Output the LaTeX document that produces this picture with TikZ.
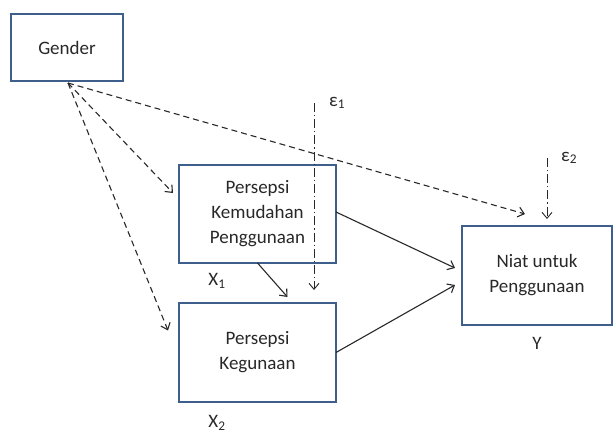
\documentclass[tikz,border=0pt]{standalone}
\usepackage{fontspec}
\setmainfont{Carlito}
\usetikzlibrary{arrows.meta,positioning,calc}

\definecolor{boxblue}{RGB}{62,95,140}
\definecolor{inkgray}{RGB}{40,40,40}

\begin{document}
\begin{tikzpicture}[
    x=1pt, y=-1pt,
    font=\fontsize{19}{25}\selectfont,
    >={Straight Barb[length=6pt,width=10pt]},
    % styles
    box/.style={draw=boxblue, line width=2pt, rectangle, outer sep=0pt, align=center, text=inkgray},
    lbl/.style={inner sep=0pt, text=inkgray},
    solid arrow/.style={draw=inkgray, ->, line width=1.1pt},
    gender arrow/.style={draw=inkgray, ->, line width=1.1pt, dash pattern=on 6pt off 4pt},
    error arrow/.style={draw=inkgray, ->, line width=0.9pt, dash pattern=on 9pt off 3pt on 1.2pt off 3pt}
]
    \useasboundingbox (0,0) rectangle (614,434);

    % --- 1. Nodes ---
    \node[box, minimum width=112pt, minimum height=67pt] (gender) at (67,47.5) {Gender};

    \node[box, minimum width=157pt, minimum height=98pt] (x1) at (257.5,214) {Persepsi\\Kemudahan\\Penggunaan};
    \node[box, minimum width=157pt, minimum height=99pt, below=40pt of x1] (x2) {Persepsi\\Kegunaan};

    \node[box, minimum width=150pt, minimum height=99pt] (niat) at (537,275.5) {Niat untuk\\Penggunaan};

    % variable labels
    \node[lbl] (x1lab) at ($(x1.south west)+(38,18)$) {X\textsubscript{1}};
    \node[lbl] (x2lab) at ($(x2.south west)+(38,21)$) {X\textsubscript{2}};
    \node[lbl, below=12pt of niat] (ylab) {Y};

    % error terms
    \coordinate (e1top) at ($(x1.north east)+(-22,-62)$);
    \coordinate (e1end) at ($(x2.north east)+(-22,-13)$);
    \node[lbl, anchor=west] (e1lab) at ($(e1top)+(15,0)$) {ε\textsubscript{1}};

    \coordinate (e2top) at ($(niat.north)+(10,-68)$);
    \coordinate (e2end) at ($(niat.north)+(10,-7)$);
    \node[lbl, anchor=west] (e2lab) at ($(e2top)+(14,0)$) {ε\textsubscript{2}};

    % --- 2. Paths ---

    % Gender -> all (dashed)
    \coordinate (gstart) at ($(gender.south)+(1,2)$);
    \draw[gender arrow] (gstart) -- ($(x1.west)+(-6,-21)$);
    \draw[gender arrow] (gstart) -- ($(x2.west)+(-11,-22)$);
    \draw[gender arrow] (gstart) -- ($(niat.north west)+(63,-12)$);

    % error terms (dash dot)
    \draw[error arrow] (e1top) -- (e1end);
    \draw[error arrow] (e2top) -- (e2end);

    % X1 -> X2, X1 -> Y, X2 -> Y
    \draw[solid arrow] (x1.south) -- ($(x2.north)+(30,-6)$);
    \draw[solid arrow] ($(x1.east)+(0,-2)$) -- ($(niat.west)+(-7,-7.5)$);
    \draw[solid arrow] (x2.east) -- ($(niat.west)+(-7,9.5)$);

\end{tikzpicture}
\end{document}
